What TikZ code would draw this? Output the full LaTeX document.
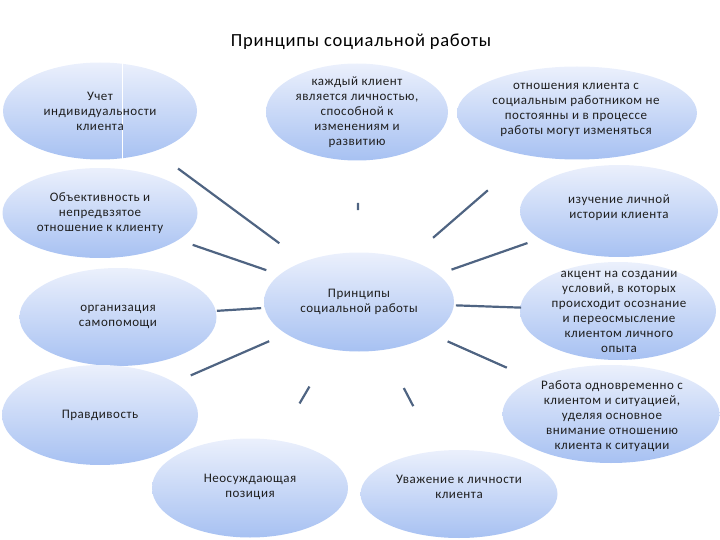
\documentclass[tikz,border=0pt]{standalone}
\usepackage{fontspec}
\setmainfont{Carlito}[LetterSpace=4]
\usetikzlibrary{shapes.geometric}
\definecolor{linkgray}{HTML}{4F6482}
\definecolor{bubtop}{HTML}{EBF0FC}
\definecolor{bubbot}{HTML}{A7C1F2}
\tikzset{
  bubble/.style={ellipse, draw=none, top color=bubtop, bottom color=bubbot, inner sep=0pt},
  txt/.style={align=center, text=black!88, font=\fontsize{13}{15}\selectfont},
  link/.style={linkgray, line width=2.2pt}
}
\begin{document}
\begin{tikzpicture}[x=1pt,y=-1pt]
    \useasboundingbox (0,0) rectangle (720,540);
    \node[font=\fontsize{18.5}{21}\selectfont] (title) at (361,42) {Принципы социальной работы};
    % ellipses: name/x/y/width/height
    \foreach \n/\x/\y/\w/\h in {uchet/100/111/194/97, kazhd/357/112/182/97,
        otnosh/577/113/240/93, obj/100/213/195/90, izuch/619/211/198/92,
        mid/359/302/190/99, org/118/317/197/98, akcent/618/311/196/98,
        pravd/100/415/196/100, rabota/611/414/217/98, neosuzh/250/488/196/99,
        uvazh/459/494/197/88}
        \node[bubble, minimum width=\w pt, minimum height=\h pt] (\n) at (\x,\y) {};
    \draw[white, line width=0.8pt] (122,63) -- (122,160);
    % texts
    \node[txt] (uchet-t) at (uchet) {Учет\\индивидуальности\\клиента};
    \node[txt] (kazhd-t) at (kazhd) {каждый клиент\\является личностью,\\способной к\\изменениям и\\развитию};
    \node[txt] (otnosh-t) at (576,110) {отношения клиента с\\социальным работником не\\постоянны и в процессе\\работы могут изменяться};
    \node[txt] (obj-t) at (obj) {Объективность и\\непредвзятое\\отношение к клиенту};
    \node[txt] (izuch-t) at (619,208) {изучение личной\\истории клиента};
    \node[txt] (mid-t) at (mid) {Принципы\\социальной работы};
    \node[txt] (org-t) at (org) {организация\\самопомощи};
    \node[txt] (akcent-t) at (619,312) {акцент на создании\\условий, в которых\\происходит осознание\\и переосмысление\\клиентом личного\\опыта};
    \node[txt] (pravd-t) at (pravd) {Правдивость};
    \node[txt] (rabota-t) at (612,416) {Работа одновременно с\\клиентом и ситуацией,\\уделяя основное\\внимание отношению\\клиента к ситуации};
    \node[txt] (neosuzh-t) at (250,487) {Неосуждающая\\позиция};
    \node[txt] (uvazh-t) at (459,487) {Уважение к личности\\клиента};
    % spokes from the centre
    \foreach \n/\a/\b in {uchet/99/97, obj/98/98, kazhd/92/91, otnosh/98/118,
        izuch/98/97, org/98/99, pravd/98/99, akcent/97/97, rabota/97/114,
        neosuzh/98/98, uvazh/97/99}
        \draw[link, shorten <=\a pt, shorten >=\b pt] (mid.center) -- (\n.center);
\end{tikzpicture}
\end{document}
